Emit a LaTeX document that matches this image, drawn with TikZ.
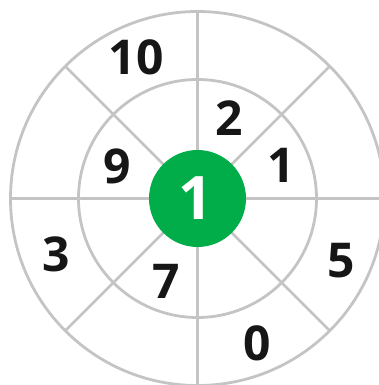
\documentclass[tikz,border=0pt]{standalone}
\usepackage{fontspec}
\setmainfont{Open Sans}
\usetikzlibrary{calc}
\definecolor{ringgray}{RGB}{196,196,196}
\definecolor{targetgreen}{RGB}{0,173,72}
\definecolor{numdark}{RGB}{22,22,22}
\begin{document}
\begin{tikzpicture}[x=1pt,y=1pt,
  ring/.style={draw=ringgray,line width=2.8pt},
  num/.style={inner sep=0pt,text=numdark,font=\fontsize{48}{48}\selectfont\bfseries},
  bull/.style={circle,fill=targetgreen,minimum size=97pt,inner sep=0pt}]
\useasboundingbox (0,0) rectangle (379,385);
\clip (0,0) rectangle (379,385);
\coordinate (c) at (197.5,186.5);
\draw[ring] (c) circle[radius=187];
\draw[ring] (c) circle[radius=119];
\foreach \a in {0,45,90,135} {
  \coordinate (p\a) at ($(c)+(\a:187)$);
  \coordinate (q\a) at ($(c)+(\a+180:187)$);
  \draw[ring] (p\a) -- (q\a);
}
\node[bull] (bullseye) at (c) {};
\node[inner sep=0pt,text=white,font=\fontsize{60}{60}\selectfont\bfseries] (center) at (196,187) {1};
\node[num] (n10) at (136,328) {10};
\node[num] (n9) at (117.5,218.5) {9};
\node[num] (n2) at (229,266.5) {2};
\node[num] (n1) at (281,220) {1};
\node[num] (n3) at (56,131) {3};
\node[num] (n7) at (166,103.5) {7};
\node[num] (n5) at (341.5,124) {5};
\node[num] (n0) at (257.5,41.5) {0};
\end{tikzpicture}
\end{document}
